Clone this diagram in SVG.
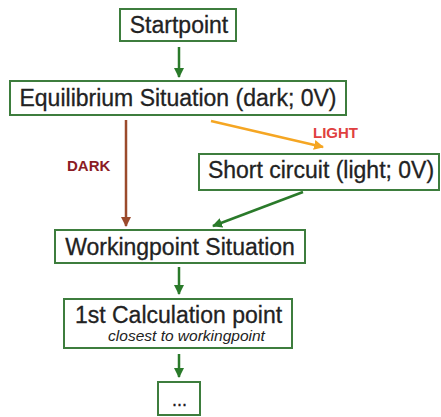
<svg xmlns="http://www.w3.org/2000/svg" width="441" height="417" viewBox="0 0 441 417">
<style>
.box{fill:#fff;stroke:#3d7d3d;stroke-width:2}
.t{font-family:"Liberation Sans",Arial,sans-serif;font-size:23px;fill:#222;text-anchor:middle;stroke:#222;stroke-width:0.3}
.lbl{font-family:"Liberation Sans",Arial,sans-serif;font-size:15px;font-weight:bold}
.g{stroke:#2a7a2a;stroke-width:2.5;fill:none}
</style>
<defs>
<marker id="ag" viewBox="0 0 10 10" refX="9" refY="5" markerWidth="4" markerHeight="4" orient="auto" markerUnits="strokeWidth"><path d="M0,0L10,5L0,10z" fill="#2a7a2a"/></marker>
<marker id="ab" viewBox="0 0 10 10" refX="9" refY="5" markerWidth="4" markerHeight="4" orient="auto" markerUnits="strokeWidth"><path d="M0,0L10,5L0,10z" fill="#9b4a2c"/></marker>
<marker id="ao" viewBox="0 0 10 10" refX="9" refY="5" markerWidth="4" markerHeight="4" orient="auto" markerUnits="strokeWidth"><path d="M0,0L10,5L0,10z" fill="#f5a623"/></marker>
</defs>
<rect width="441" height="417" fill="#fff"/>
<g id="connectors">
<line class="g" x1="179" y1="47" x2="179" y2="77" marker-end="url(#ag)"/>
<line x1="126" y1="120" x2="126" y2="226" stroke="#9b4a2c" stroke-width="2.5" marker-end="url(#ab)"/>
<line x1="211" y1="121" x2="323" y2="147" stroke="#f5a623" stroke-width="2.5" marker-end="url(#ao)"/>
<line class="g" x1="303" y1="192" x2="213" y2="226" marker-end="url(#ag)"/>
<line class="g" x1="179" y1="267" x2="179" y2="294" marker-end="url(#ag)"/>
<line class="g" x1="179" y1="354" x2="179" y2="377" marker-end="url(#ag)"/>
<text class="lbl" x="67" y="171" fill="#8b1c24">DARK</text>
<text class="lbl" x="313" y="138" fill="#e04040">LIGHT</text>
</g>
<g id="startpoint"><rect class="box" x="120" y="9" width="116" height="32"/><text class="t" x="179" y="33">Startpoint</text></g>
<g id="equilibrium"><rect class="box" x="10" y="81" width="336" height="34"/><text class="t" x="178" y="106">Equilibrium Situation (dark; 0V)</text></g>
<g id="shortcircuit"><rect class="box" x="199" y="154" width="240" height="36"/><text class="t" x="321" y="178">Short circuit (light; 0V)</text></g>
<g id="workingpoint"><rect class="box" x="55" y="230" width="250" height="33"/><text class="t" x="180" y="255">Workingpoint Situation</text></g>
<g id="calc"><rect class="box" x="64" y="299" width="228" height="49"/><text class="t" x="178.5" y="323">1st Calculation point</text><text x="186.5" y="341" font-family="Liberation Sans,Arial,sans-serif" font-size="15.5" font-style="italic" fill="#222" text-anchor="middle">closest to workingpoint</text></g>
<g id="ellipsis"><rect class="box" x="158" y="382" width="42" height="33"/><text class="t" x="179.5" y="406" style="font-size:18px">...</text></g>
</svg>
